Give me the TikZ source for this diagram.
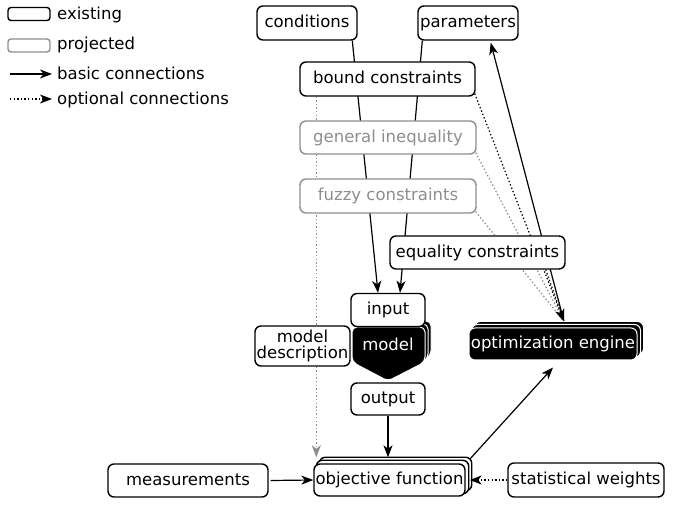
\documentclass[tikz,border=0pt]{standalone}
\usepackage{fontspec}
\setmainfont{DejaVu Sans}
\usetikzlibrary{arrows.meta,calc}
\pgfdeclarelayer{bg}
\pgfsetlayers{bg,main}
\definecolor{proj}{HTML}{8E8E8E}
\begin{document}
\begin{tikzpicture}[x=1pt,y=-1pt,
  every node/.style={font=\fontsize{16.5}{16.5}\selectfont, inner sep=1pt},
  boxbase/.style={draw=black, line width=1.4pt, rounded corners=6pt, fill=white},
  box/.style={boxbase, text height=12.5pt, text depth=2.5pt},
  projbox/.style={box, draw=proj, text=proj},
  conn/.style={line width=1.2pt, -{Stealth[length=12pt,width=9pt,inset=3.5pt]}},
  optb/.style={conn, dash pattern=on 1.4pt off 2.2pt},
  optg/.style={line width=1.2pt, draw=proj, dash pattern=on 1.4pt off 2.2pt},
  blackcopy/.style={fill=black, draw=white, line width=1pt, rounded corners=5pt},
  lbl/.style={anchor=base west, inner sep=0pt}
  ]
\useasboundingbox (0,0) rectangle (673,505);

% legend
\node[boxbase, rounded corners=3pt, minimum width=42pt, minimum height=13pt, inner sep=0pt] (legex) at (29,14) {};
\node[lbl] (legextxt) at (57,20) {existing};
\node[boxbase, draw=proj, rounded corners=3pt, minimum width=42pt, minimum height=13pt, inner sep=0pt] (legpr) at (29,45.5) {};
\node[lbl] (legprtxt) at (57,50) {projected};
\coordinate (la1) at (10,74);
\coordinate (la2) at (52,74);
\draw[conn] (la1) -- (la2);
\node[lbl] (legbtxt) at (57,80) {basic connections};
\coordinate (lb1) at (10,99);
\coordinate (lb2) at (52,99);
\draw[optb] (lb1) -- (lb2);
\node[lbl] (legotxt) at (57,105) {optional connections};

% top
\node[box, minimum width=100pt, minimum height=34pt] (conditions) at (307,23) {conditions};
\node[box, minimum width=100pt, minimum height=34pt] (parameters) at (468,23) {parameters};
\node[box, minimum width=175pt, minimum height=34pt] (bound) at (387.5,79) {bound constraints};
\node[projbox, minimum width=176pt, minimum height=33pt] (geninq) at (388,137.5) {general inequality};
\node[projbox, minimum width=176pt, minimum height=34pt] (fuzzy) at (388,196) {fuzzy constraints};
\node[box, minimum width=175pt, minimum height=33pt] (equality) at (477.5,252.5) {equality constraints};

% model
\foreach \s in {6,3}
  \filldraw[blackcopy, shift={(\s,-\s)}] (352,327) -- (425,327) -- (425,362) -- (388,381) -- (352,362) -- cycle;
\filldraw[blackcopy] (352,327) -- (425,327) -- (425,362) -- (388,381) -- (352,362) -- cycle;
\node[text=white, text height=12.5pt, text depth=2.5pt] (model) at (388,346) {model};
\node[box, minimum width=74pt, minimum height=33pt] (input) at (388,310) {input};
\node[boxbase, minimum width=95pt, minimum height=40pt, align=center, inner sep=0pt, font=\fontsize{16.5}{16}\selectfont] (modeldesc) at (302.5,346) {model\\description};
\node[box, minimum width=74pt, minimum height=32pt] (output) at (388,399) {output};

% engine
\node[box, fill=black, text=white, draw=white, line width=1pt, minimum width=168pt, minimum height=32pt] (engine) at (553,344) {optimization engine};

% bottom row
\node[box, minimum width=151pt, minimum height=32pt] (objective) at (389.5,480) {objective function};
\node[box, minimum width=160pt, minimum height=33pt] (measurements) at (188,480.5) {measurements};
\node[box, minimum width=156pt, minimum height=34pt] (weights) at (586,480) {statistical weights};

\coordinate (engtop) at ($(engine.north)+(11,-6)$);
\coordinate (objtop) at ($(objective.north)+(-1.5,-6)$);

\begin{pgfonlayer}{bg}
  % main flow to input
  \draw[conn] ($(conditions.south west)+(96,0)$) -- ($(input.north)+(-10,0)$);
  \draw[conn] ($(parameters.south west)+(5,0)$) -- ($(input.north)+(12,0)$);
  % optional to engine
  \draw[optg] ($(geninq.south east)+(-1,-2)$) -- (engtop);
  \draw[optg] ($(fuzzy.south east)+(-1,-2)$) -- (engtop);
  \draw[optb] ($(equality.south east)+(-20,0)$) -- (engtop);
  \draw[optb] ($(bound.south east)+(-1,-3)$) -- (engtop);
  \draw[conn] (engtop) -- ($(parameters.south east)+(-28,2)$);
  % bound to objective
  \draw[optg, -{Stealth[length=12pt,width=9pt,inset=3.5pt]}, proj] ($(bound.south west)+(17,0)$) -- ($(objective.north west)+(3,-6)$);
  % copies
  \foreach \s in {6,3}
    \filldraw[blackcopy, rounded corners=6pt] ($(engine.south west)+(\s,-\s)$) rectangle ($(engine.north east)+(\s,-\s)$);
  \foreach \s in {6,3}
    \filldraw[boxbase] ($(objective.south west)+(\s,-\s)$) rectangle ($(objective.north east)+(\s,-\s)$);
\end{pgfonlayer}

\draw[conn] (output.south) -- (objtop);
\draw[conn] ($(objective.north east)+(4,-4)$) -- ($(engine.south)+(0,7)$);
\draw[conn] ($(measurements.east)+(2,0)$) -- (objective.west);
\draw[optb] (weights.west) -- ($(objective.east)+(4,0)$);
\end{tikzpicture}
\end{document}
